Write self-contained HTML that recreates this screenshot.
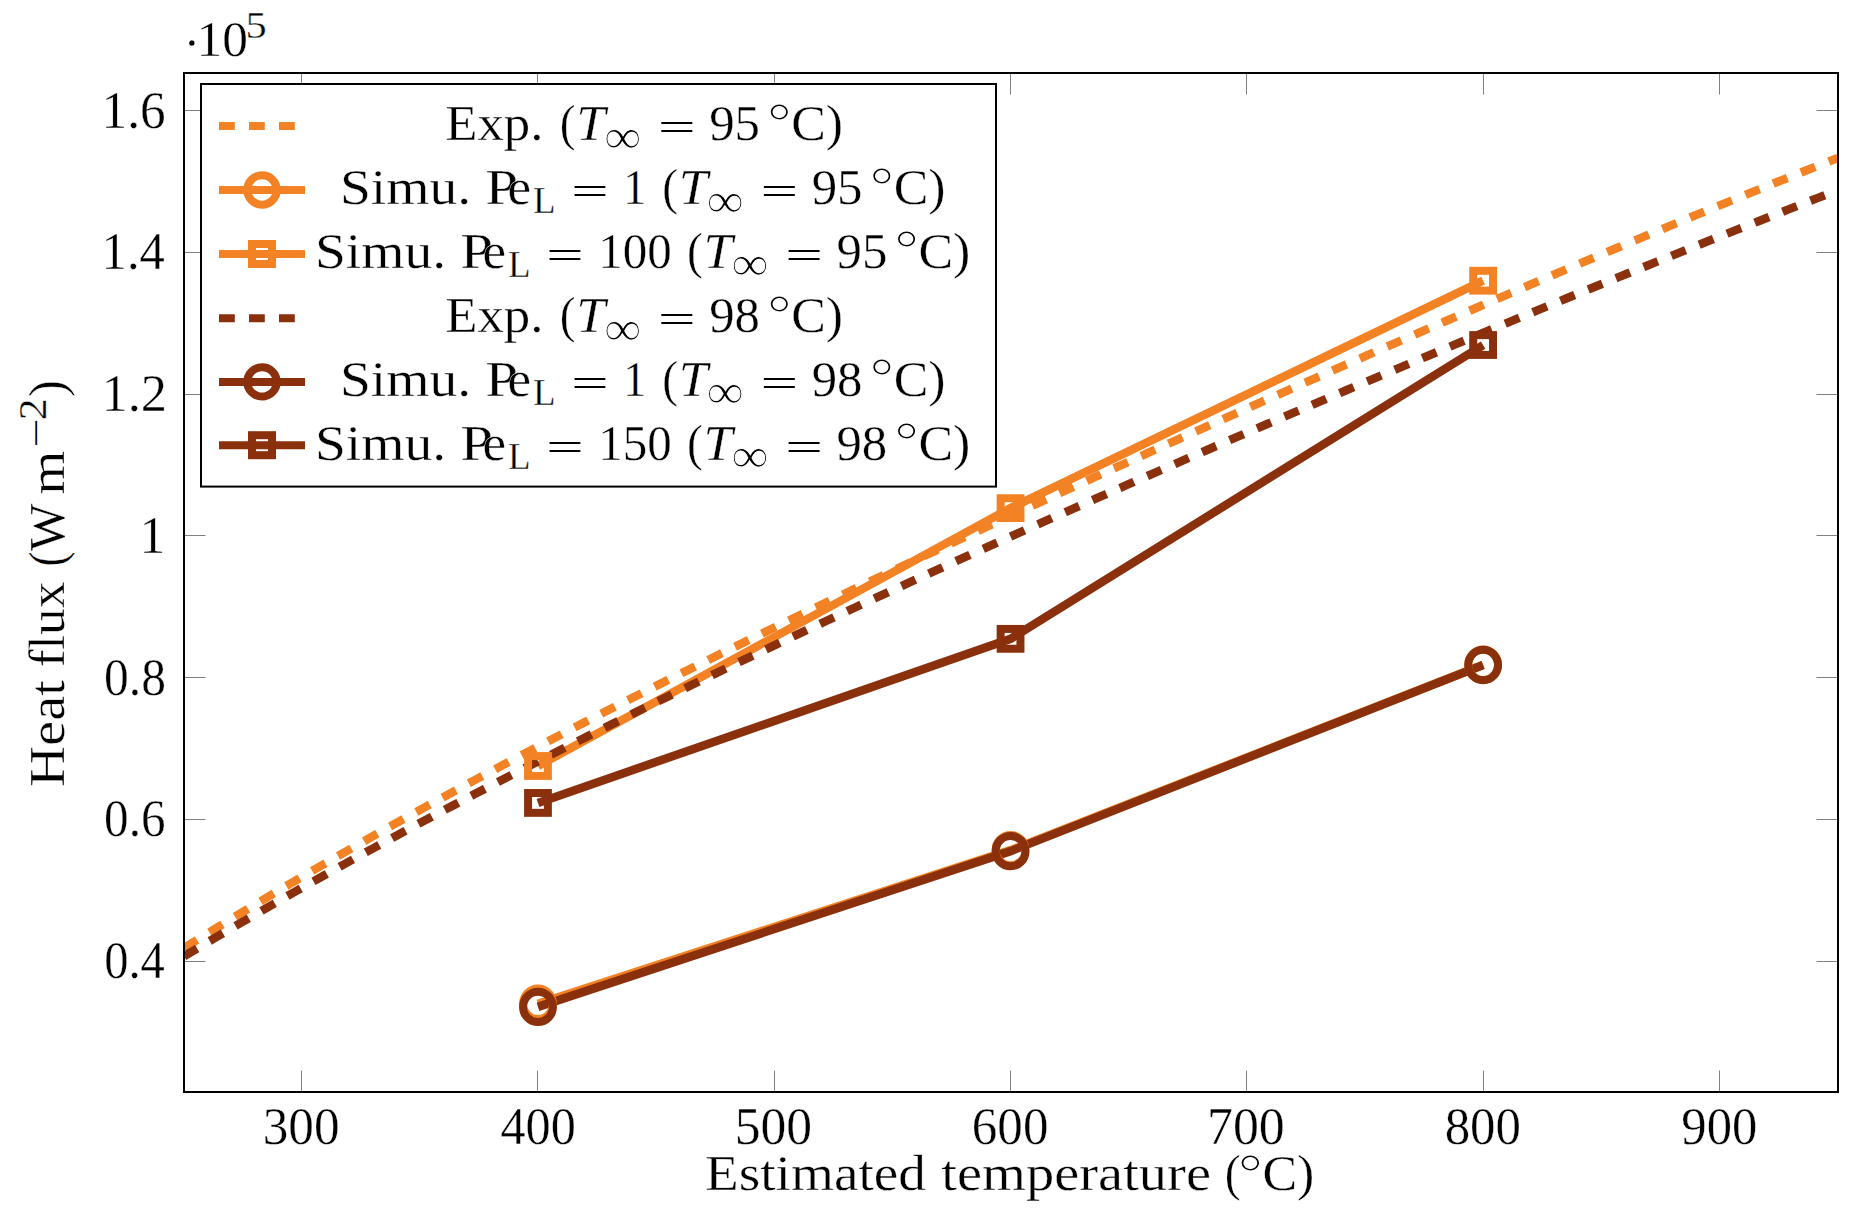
<!DOCTYPE html>
<html><head><meta charset="utf-8"><title>Heat flux vs estimated temperature</title>
<style>html,body{margin:0;padding:0;background:#fff;overflow:hidden}svg{display:block}text{font-family:"Liberation Serif",serif;fill:#000;stroke:#fff;stroke-width:0.35px}</style></head><body>
<svg width="1868" height="1227" viewBox="0 0 1868 1227">
<rect width="1868" height="1227" fill="#fff"/>
<g stroke="#808080" stroke-width="1" fill="none">
<path d="M301.5 1092.0V1070.5M301.5 73.0V94.5"/>
<path d="M537.5 1092.0V1070.5M537.5 73.0V94.5"/>
<path d="M774.5 1092.0V1070.5M774.5 73.0V94.5"/>
<path d="M1010.5 1092.0V1070.5M1010.5 73.0V94.5"/>
<path d="M1246.5 1092.0V1070.5M1246.5 73.0V94.5"/>
<path d="M1483.5 1092.0V1070.5M1483.5 73.0V94.5"/>
<path d="M1719.5 1092.0V1070.5M1719.5 73.0V94.5"/>
<path d="M184.0 961.5H205.5M1838.0 961.5H1816.5"/>
<path d="M184.0 819.5H205.5M1838.0 819.5H1816.5"/>
<path d="M184.0 677.5H205.5M1838.0 677.5H1816.5"/>
<path d="M184.0 535.5H205.5M1838.0 535.5H1816.5"/>
<path d="M184.0 394.5H205.5M1838.0 394.5H1816.5"/>
<path d="M184.0 252.5H205.5M1838.0 252.5H1816.5"/>
<path d="M184.0 110.5H205.5M1838.0 110.5H1816.5"/>
</g>
<defs><clipPath id="c"><rect x="184.0" y="73.0" width="1654.0" height="1019.0"/></clipPath></defs>
<g clip-path="url(#c)" fill="none" stroke-width="8">
<polyline points="184.00,948.07 194.02,941.83 204.05,935.62 214.07,929.45 224.10,923.32 234.12,917.22 244.15,911.16 254.17,905.13 264.19,899.14 274.22,893.17 284.24,887.25 294.27,881.35 304.29,875.48 314.32,869.65 324.34,863.85 334.36,858.07 344.39,852.33 354.41,846.61 364.44,840.93 374.46,835.27 384.48,829.64 394.51,824.03 404.53,818.46 414.56,812.90 424.58,807.38 434.61,801.88 444.63,796.40 454.65,790.95 464.68,785.53 474.70,780.12 484.73,774.74 494.75,769.38 504.78,764.05 514.80,758.74 524.82,753.44 534.85,748.17 544.87,742.92 554.90,737.69 564.92,732.48 574.95,727.29 584.97,722.11 594.99,716.96 605.02,711.83 615.04,706.71 625.07,701.61 635.09,696.53 645.12,691.46 655.14,686.41 665.16,681.38 675.19,676.36 685.21,671.36 695.24,666.37 705.26,661.40 715.28,656.45 725.31,651.50 735.33,646.58 745.36,641.66 755.38,636.76 765.41,631.87 775.43,627.00 785.45,622.14 795.48,617.29 805.50,612.45 815.53,607.62 825.55,602.81 835.58,598.01 845.60,593.21 855.62,588.43 865.65,583.66 875.67,578.91 885.70,574.16 895.72,569.42 905.75,564.69 915.77,559.97 925.79,555.26 935.82,550.56 945.84,545.87 955.87,541.19 965.89,536.51 975.92,531.85 985.94,527.19 995.96,522.54 1005.99,517.90 1016.01,513.27 1026.04,508.64 1036.06,504.03 1046.08,499.42 1056.11,494.82 1066.13,490.22 1076.16,485.64 1086.18,481.06 1096.21,476.48 1106.23,471.92 1116.25,467.36 1126.28,462.81 1136.30,458.26 1146.33,453.72 1156.35,449.19 1166.38,444.66 1176.40,440.14 1186.42,435.63 1196.45,431.13 1206.47,426.62 1216.50,422.13 1226.52,417.64 1236.55,413.16 1246.57,408.69 1256.59,404.22 1266.62,399.75 1276.64,395.30 1286.67,390.84 1296.69,386.40 1306.72,381.96 1316.74,377.53 1326.76,373.10 1336.79,368.68 1346.81,364.27 1356.84,359.86 1366.86,355.46 1376.88,351.07 1386.91,346.68 1396.93,342.30 1406.96,337.92 1416.98,333.55 1427.01,329.19 1437.03,324.84 1447.05,320.49 1457.08,316.15 1467.10,311.81 1477.13,307.49 1487.15,303.17 1497.18,298.85 1507.20,294.55 1517.22,290.25 1527.25,285.97 1537.27,281.68 1547.30,277.41 1557.32,273.15 1567.35,268.89 1577.37,264.64 1587.39,260.40 1597.42,256.17 1607.44,251.95 1617.47,247.74 1627.49,243.54 1637.52,239.35 1647.54,235.16 1657.56,230.99 1667.59,226.83 1677.61,222.67 1687.64,218.53 1697.66,214.40 1707.68,210.28 1717.71,206.17 1727.73,202.08 1737.76,197.99 1747.78,193.92 1757.81,189.86 1767.83,185.81 1777.85,181.77 1787.88,177.75 1797.90,173.74 1807.93,169.75 1817.95,165.77 1827.98,161.80 1838.00,157.85" stroke="#f28224" stroke-width="8.5" stroke-dasharray="15.3 14.62"/>
<polyline points="537.98,1003.70 1010.55,850.16 1483.12,664.71" stroke="#f28224" stroke-width="8.5"/>
<polyline points="537.98,765.98 1010.55,508.13 1483.12,280.70" stroke="#f28224" stroke-width="8.5"/>
<polyline points="184.00,956.31 194.02,950.33 204.05,944.38 214.07,938.46 224.10,932.58 234.12,926.72 244.15,920.89 254.17,915.09 264.19,909.32 274.22,903.58 284.24,897.86 294.27,892.17 304.29,886.51 314.32,880.88 324.34,875.27 334.36,869.69 344.39,864.14 354.41,858.61 364.44,853.10 374.46,847.62 384.48,842.17 394.51,836.73 404.53,831.33 414.56,825.94 424.58,820.58 434.61,815.24 444.63,809.92 454.65,804.62 464.68,799.35 474.70,794.09 484.73,788.86 494.75,783.65 504.78,778.46 514.80,773.29 524.82,768.13 534.85,763.00 544.87,757.88 554.90,752.79 564.92,747.71 574.95,742.65 584.97,737.61 594.99,732.59 605.02,727.58 615.04,722.59 625.07,717.62 635.09,712.66 645.12,707.72 655.14,702.79 665.16,697.88 675.19,692.99 685.21,688.11 695.24,683.25 705.26,678.40 715.28,673.56 725.31,668.74 735.33,663.93 745.36,659.14 755.38,654.36 765.41,649.59 775.43,644.84 785.45,640.10 795.48,635.37 805.50,630.66 815.53,625.95 825.55,621.26 835.58,616.58 845.60,611.91 855.62,607.25 865.65,602.61 875.67,597.97 885.70,593.35 895.72,588.74 905.75,584.13 915.77,579.54 925.79,574.96 935.82,570.39 945.84,565.82 955.87,561.27 965.89,556.73 975.92,552.19 985.94,547.67 995.96,543.15 1005.99,538.65 1016.01,534.15 1026.04,529.66 1036.06,525.18 1046.08,520.71 1056.11,516.25 1066.13,511.79 1076.16,507.34 1086.18,502.90 1096.21,498.47 1106.23,494.05 1116.25,489.63 1126.28,485.23 1136.30,480.83 1146.33,476.43 1156.35,472.05 1166.38,467.67 1176.40,463.30 1186.42,458.93 1196.45,454.58 1206.47,450.23 1216.50,445.88 1226.52,441.55 1236.55,437.22 1246.57,432.89 1256.59,428.58 1266.62,424.27 1276.64,419.97 1286.67,415.67 1296.69,411.38 1306.72,407.10 1316.74,402.82 1326.76,398.55 1336.79,394.29 1346.81,390.03 1356.84,385.78 1366.86,381.54 1376.88,377.30 1386.91,373.07 1396.93,368.85 1406.96,364.63 1416.98,360.42 1427.01,356.22 1437.03,352.02 1447.05,347.83 1457.08,343.64 1467.10,339.46 1477.13,335.29 1487.15,331.13 1497.18,326.97 1507.20,322.82 1517.22,318.67 1527.25,314.53 1537.27,310.40 1547.30,306.28 1557.32,302.16 1567.35,298.05 1577.37,293.95 1587.39,289.86 1597.42,285.77 1607.44,281.69 1617.47,277.61 1627.49,273.55 1637.52,269.49 1647.54,265.44 1657.56,261.40 1667.59,257.37 1677.61,253.34 1687.64,249.32 1697.66,245.31 1707.68,241.31 1717.71,237.32 1727.73,233.33 1737.76,229.36 1747.78,225.39 1757.81,221.44 1767.83,217.49 1777.85,213.55 1787.88,209.62 1797.90,205.70 1807.93,201.79 1817.95,197.89 1827.98,194.00 1838.00,190.12" stroke="#8b300c" stroke-width="8.5" stroke-dasharray="15.3 14.62"/>
<polyline points="537.98,1006.89 1010.55,851.15 1483.12,664.93" stroke="#8b300c" stroke-width="8.5"/>
<polyline points="537.98,802.93 1010.55,638.83 1483.12,345.02" stroke="#8b300c" stroke-width="8.5"/>
<ellipse cx="537.98" cy="1003.70" rx="14.9" ry="15.2" stroke="#f28224"/>
<ellipse cx="1010.55" cy="850.16" rx="14.9" ry="15.2" stroke="#f28224"/>
<ellipse cx="1483.12" cy="664.71" rx="14.9" ry="15.2" stroke="#f28224"/>
<rect x="528.08" y="756.08" width="19.8" height="19.8" stroke="#f28224"/>
<rect x="1000.65" y="498.23" width="19.8" height="19.8" stroke="#f28224"/>
<rect x="1473.22" y="270.80" width="19.8" height="19.8" stroke="#f28224"/>
<ellipse cx="537.98" cy="1006.89" rx="14.9" ry="15.2" stroke="#8b300c"/>
<ellipse cx="1010.55" cy="851.15" rx="14.9" ry="15.2" stroke="#8b300c"/>
<ellipse cx="1483.12" cy="664.93" rx="14.9" ry="15.2" stroke="#8b300c"/>
<rect x="528.08" y="793.03" width="19.8" height="19.8" stroke="#8b300c"/>
<rect x="1000.65" y="628.93" width="19.8" height="19.8" stroke="#8b300c"/>
<rect x="1473.22" y="335.12" width="19.8" height="19.8" stroke="#8b300c"/>
</g>
<rect x="201" y="84" width="795" height="402.6" fill="#fff" stroke="#000" stroke-width="2"/>
<g fill="none" stroke-width="8">
<path d="M219 126H305" stroke="#f28224" stroke-dasharray="15.8 14.2"/>
<path d="M219 190H305" stroke="#f28224"/>
<circle cx="262" cy="190" r="14.7" stroke="#f28224"/>
<path d="M219 254H305" stroke="#f28224"/>
<rect x="252" y="244" width="20" height="20" stroke="#f28224"/>
<path d="M219 318.2H305" stroke="#8b300c" stroke-dasharray="15.8 14.2"/>
<path d="M219 381.9H305" stroke="#8b300c"/>
<circle cx="262" cy="381.9" r="14.7" stroke="#8b300c"/>
<path d="M219 445.2H305" stroke="#8b300c"/>
<rect x="252" y="435.2" width="20" height="20" stroke="#8b300c"/>
</g>
<rect x="184.0" y="73.0" width="1654.0" height="1019.0" fill="none" stroke="#000" stroke-width="2"/>
<text x="445.15" y="140.20" font-size="50" textLength="98.33" lengthAdjust="spacingAndGlyphs">Exp.</text>
<text x="559.69" y="140.20" font-size="50" textLength="15.78" lengthAdjust="spacingAndGlyphs">(</text>
<text x="576.20" y="140.20" font-size="50" font-style="italic" textLength="29.12" lengthAdjust="spacingAndGlyphs">T</text>
<text transform="translate(0 152.70) scale(1 1.4)" x="603.93" y="0" font-size="35" textLength="37.36" lengthAdjust="spacingAndGlyphs" style="stroke-width:0.7px">∞</text>
<text transform="translate(0 140.20) scale(1 0.77)" x="658.07" y="0" font-size="50" textLength="37.60" lengthAdjust="spacingAndGlyphs" style="stroke:none">=</text>
<text x="709.15" y="140.20" font-size="50" textLength="50.89" lengthAdjust="spacingAndGlyphs">95</text>
<text x="767.30" y="138.70" font-size="52" textLength="24.16" lengthAdjust="spacingAndGlyphs" style="stroke-width:1.1px">°</text>
<text x="791.22" y="140.20" font-size="50" textLength="51.88" lengthAdjust="spacingAndGlyphs">C)</text>
<text x="339.95" y="204.10" font-size="50" textLength="131.23" lengthAdjust="spacingAndGlyphs">Simu.</text>
<text x="485.28" y="204.10" font-size="50" textLength="32.80" lengthAdjust="spacingAndGlyphs">P</text>
<text x="507.47" y="204.10" font-size="50" textLength="23.63" lengthAdjust="spacingAndGlyphs">e</text>
<text x="533.01" y="213.40" font-size="38" textLength="22.54" lengthAdjust="spacingAndGlyphs">L</text>
<text transform="translate(0 204.10) scale(1 0.77)" x="571.29" y="0" font-size="50" textLength="37.36" lengthAdjust="spacingAndGlyphs" style="stroke:none">=</text>
<text x="623.30" y="204.10" font-size="50" textLength="22.84" lengthAdjust="spacingAndGlyphs">1</text>
<text x="662.19" y="204.10" font-size="50" textLength="15.78" lengthAdjust="spacingAndGlyphs">(</text>
<text x="678.70" y="204.10" font-size="50" font-style="italic" textLength="29.12" lengthAdjust="spacingAndGlyphs">T</text>
<text transform="translate(0 216.60) scale(1 1.4)" x="706.43" y="0" font-size="35" textLength="37.36" lengthAdjust="spacingAndGlyphs" style="stroke-width:0.7px">∞</text>
<text transform="translate(0 204.10) scale(1 0.77)" x="760.57" y="0" font-size="50" textLength="37.60" lengthAdjust="spacingAndGlyphs" style="stroke:none">=</text>
<text x="811.65" y="204.10" font-size="50" textLength="50.89" lengthAdjust="spacingAndGlyphs">95</text>
<text x="869.80" y="202.60" font-size="52" textLength="24.16" lengthAdjust="spacingAndGlyphs" style="stroke-width:1.1px">°</text>
<text x="893.72" y="204.10" font-size="50" textLength="51.88" lengthAdjust="spacingAndGlyphs">C)</text>
<text x="314.95" y="267.60" font-size="50" textLength="131.23" lengthAdjust="spacingAndGlyphs">Simu.</text>
<text x="460.28" y="267.60" font-size="50" textLength="32.80" lengthAdjust="spacingAndGlyphs">P</text>
<text x="482.47" y="267.60" font-size="50" textLength="23.63" lengthAdjust="spacingAndGlyphs">e</text>
<text x="508.01" y="276.90" font-size="38" textLength="22.54" lengthAdjust="spacingAndGlyphs">L</text>
<text transform="translate(0 267.60) scale(1 0.77)" x="546.29" y="0" font-size="50" textLength="37.36" lengthAdjust="spacingAndGlyphs" style="stroke:none">=</text>
<text x="598.21" y="267.60" font-size="50" textLength="73.53" lengthAdjust="spacingAndGlyphs">100</text>
<text x="686.99" y="267.60" font-size="50" textLength="15.78" lengthAdjust="spacingAndGlyphs">(</text>
<text x="703.50" y="267.60" font-size="50" font-style="italic" textLength="29.12" lengthAdjust="spacingAndGlyphs">T</text>
<text transform="translate(0 280.10) scale(1 1.4)" x="731.23" y="0" font-size="35" textLength="37.36" lengthAdjust="spacingAndGlyphs" style="stroke-width:0.7px">∞</text>
<text transform="translate(0 267.60) scale(1 0.77)" x="785.37" y="0" font-size="50" textLength="37.60" lengthAdjust="spacingAndGlyphs" style="stroke:none">=</text>
<text x="836.45" y="267.60" font-size="50" textLength="50.89" lengthAdjust="spacingAndGlyphs">95</text>
<text x="894.60" y="266.10" font-size="52" textLength="24.16" lengthAdjust="spacingAndGlyphs" style="stroke-width:1.1px">°</text>
<text x="918.52" y="267.60" font-size="50" textLength="51.88" lengthAdjust="spacingAndGlyphs">C)</text>
<text x="445.15" y="332.00" font-size="50" textLength="98.33" lengthAdjust="spacingAndGlyphs">Exp.</text>
<text x="559.69" y="332.00" font-size="50" textLength="15.78" lengthAdjust="spacingAndGlyphs">(</text>
<text x="576.20" y="332.00" font-size="50" font-style="italic" textLength="29.12" lengthAdjust="spacingAndGlyphs">T</text>
<text transform="translate(0 344.50) scale(1 1.4)" x="603.93" y="0" font-size="35" textLength="37.36" lengthAdjust="spacingAndGlyphs" style="stroke-width:0.7px">∞</text>
<text transform="translate(0 332.00) scale(1 0.77)" x="658.07" y="0" font-size="50" textLength="37.60" lengthAdjust="spacingAndGlyphs" style="stroke:none">=</text>
<text x="709.15" y="332.00" font-size="50" textLength="50.75" lengthAdjust="spacingAndGlyphs">98</text>
<text x="767.30" y="330.50" font-size="52" textLength="24.16" lengthAdjust="spacingAndGlyphs" style="stroke-width:1.1px">°</text>
<text x="791.22" y="332.00" font-size="50" textLength="51.88" lengthAdjust="spacingAndGlyphs">C)</text>
<text x="339.95" y="395.90" font-size="50" textLength="131.23" lengthAdjust="spacingAndGlyphs">Simu.</text>
<text x="485.28" y="395.90" font-size="50" textLength="32.80" lengthAdjust="spacingAndGlyphs">P</text>
<text x="507.47" y="395.90" font-size="50" textLength="23.63" lengthAdjust="spacingAndGlyphs">e</text>
<text x="533.01" y="405.20" font-size="38" textLength="22.54" lengthAdjust="spacingAndGlyphs">L</text>
<text transform="translate(0 395.90) scale(1 0.77)" x="571.29" y="0" font-size="50" textLength="37.36" lengthAdjust="spacingAndGlyphs" style="stroke:none">=</text>
<text x="623.30" y="395.90" font-size="50" textLength="22.84" lengthAdjust="spacingAndGlyphs">1</text>
<text x="662.19" y="395.90" font-size="50" textLength="15.78" lengthAdjust="spacingAndGlyphs">(</text>
<text x="678.70" y="395.90" font-size="50" font-style="italic" textLength="29.12" lengthAdjust="spacingAndGlyphs">T</text>
<text transform="translate(0 408.40) scale(1 1.4)" x="706.43" y="0" font-size="35" textLength="37.36" lengthAdjust="spacingAndGlyphs" style="stroke-width:0.7px">∞</text>
<text transform="translate(0 395.90) scale(1 0.77)" x="760.57" y="0" font-size="50" textLength="37.60" lengthAdjust="spacingAndGlyphs" style="stroke:none">=</text>
<text x="811.65" y="395.90" font-size="50" textLength="50.75" lengthAdjust="spacingAndGlyphs">98</text>
<text x="869.80" y="394.40" font-size="52" textLength="24.16" lengthAdjust="spacingAndGlyphs" style="stroke-width:1.1px">°</text>
<text x="893.72" y="395.90" font-size="50" textLength="51.88" lengthAdjust="spacingAndGlyphs">C)</text>
<text x="314.95" y="459.80" font-size="50" textLength="131.23" lengthAdjust="spacingAndGlyphs">Simu.</text>
<text x="460.28" y="459.80" font-size="50" textLength="32.80" lengthAdjust="spacingAndGlyphs">P</text>
<text x="482.47" y="459.80" font-size="50" textLength="23.63" lengthAdjust="spacingAndGlyphs">e</text>
<text x="508.01" y="469.10" font-size="38" textLength="22.54" lengthAdjust="spacingAndGlyphs">L</text>
<text transform="translate(0 459.80) scale(1 0.77)" x="546.29" y="0" font-size="50" textLength="37.36" lengthAdjust="spacingAndGlyphs" style="stroke:none">=</text>
<text x="598.21" y="459.80" font-size="50" textLength="73.53" lengthAdjust="spacingAndGlyphs">150</text>
<text x="686.99" y="459.80" font-size="50" textLength="15.78" lengthAdjust="spacingAndGlyphs">(</text>
<text x="703.50" y="459.80" font-size="50" font-style="italic" textLength="29.12" lengthAdjust="spacingAndGlyphs">T</text>
<text transform="translate(0 472.30) scale(1 1.4)" x="731.23" y="0" font-size="35" textLength="37.36" lengthAdjust="spacingAndGlyphs" style="stroke-width:0.7px">∞</text>
<text transform="translate(0 459.80) scale(1 0.77)" x="785.37" y="0" font-size="50" textLength="37.60" lengthAdjust="spacingAndGlyphs" style="stroke:none">=</text>
<text x="836.45" y="459.80" font-size="50" textLength="50.75" lengthAdjust="spacingAndGlyphs">98</text>
<text x="894.60" y="458.30" font-size="52" textLength="24.16" lengthAdjust="spacingAndGlyphs" style="stroke-width:1.1px">°</text>
<text x="918.52" y="459.80" font-size="50" textLength="51.88" lengthAdjust="spacingAndGlyphs">C)</text>
<text x="262.73" y="1143.50" font-size="52" textLength="76.83" lengthAdjust="spacingAndGlyphs">300</text>
<text x="500.51" y="1143.50" font-size="52" textLength="75.30" lengthAdjust="spacingAndGlyphs">400</text>
<text x="734.79" y="1143.50" font-size="52" textLength="77.36" lengthAdjust="spacingAndGlyphs">500</text>
<text x="971.84" y="1143.50" font-size="52" textLength="76.57" lengthAdjust="spacingAndGlyphs">600</text>
<text x="1206.97" y="1143.50" font-size="52" textLength="77.76" lengthAdjust="spacingAndGlyphs">700</text>
<text x="1444.66" y="1143.50" font-size="52" textLength="76.31" lengthAdjust="spacingAndGlyphs">800</text>
<text x="1681.33" y="1143.50" font-size="52" textLength="75.93" lengthAdjust="spacingAndGlyphs">900</text>
<text x="104.13" y="977.90" font-size="52" textLength="60.67" lengthAdjust="spacingAndGlyphs">0.4</text>
<text x="104.11" y="836.20" font-size="52" textLength="61.41" lengthAdjust="spacingAndGlyphs">0.6</text>
<text x="104.10" y="694.50" font-size="52" textLength="61.91" lengthAdjust="spacingAndGlyphs">0.8</text>
<text x="139.54" y="552.80" font-size="52" textLength="25.75" lengthAdjust="spacingAndGlyphs">1</text>
<text x="101.46" y="411.10" font-size="52" textLength="65.54" lengthAdjust="spacingAndGlyphs">1.2</text>
<text x="101.62" y="269.40" font-size="52" textLength="63.21" lengthAdjust="spacingAndGlyphs">1.4</text>
<text x="101.57" y="127.70" font-size="52" textLength="64.01" lengthAdjust="spacingAndGlyphs">1.6</text>
<text x="183.50" y="60.30" font-size="50" textLength="16.72" lengthAdjust="spacingAndGlyphs">·</text>
<text x="196.50" y="55.80" font-size="50" textLength="51.43" lengthAdjust="spacingAndGlyphs">10</text>
<text x="245.56" y="37.80" font-size="37" textLength="21.21" lengthAdjust="spacingAndGlyphs">5</text>
<text x="705.08" y="1189.70" font-size="50" textLength="220.76" lengthAdjust="spacingAndGlyphs">Estimated</text>
<text x="941.34" y="1189.70" font-size="50" textLength="269.64" lengthAdjust="spacingAndGlyphs">temperature</text>
<text x="1224.87" y="1189.70" font-size="50" textLength="15.91" lengthAdjust="spacingAndGlyphs">(</text>
<text x="1238.03" y="1189.70" font-size="52" textLength="24.69" lengthAdjust="spacingAndGlyphs" style="stroke-width:1.1px">°</text>
<text x="1262.52" y="1189.70" font-size="50" textLength="51.88" lengthAdjust="spacingAndGlyphs">C)</text>
<g transform="translate(63.8 785.1) rotate(-90)">
<text x="-1.55" y="0.00" font-size="50" textLength="106.55" lengthAdjust="spacingAndGlyphs">Heat</text>
<text x="117.81" y="0.00" font-size="50" textLength="85.50" lengthAdjust="spacingAndGlyphs">flux</text>
<text x="218.69" y="0.00" font-size="50" textLength="15.00" lengthAdjust="spacingAndGlyphs">(</text>
<text x="234.10" y="0.00" font-size="50" textLength="47.47" lengthAdjust="spacingAndGlyphs">W</text>
<text x="290.27" y="0.00" font-size="50" textLength="44.10" lengthAdjust="spacingAndGlyphs">m</text>
<text x="337.52" y="-16.00" font-size="35" textLength="29.15" lengthAdjust="spacingAndGlyphs" style="stroke:none">−</text>
<text x="364.70" y="-18.00" font-size="39" textLength="22.34" lengthAdjust="spacingAndGlyphs">2</text>
<text x="388.37" y="0.00" font-size="50" textLength="16.68" lengthAdjust="spacingAndGlyphs">)</text>
</g>
</svg></body></html>
